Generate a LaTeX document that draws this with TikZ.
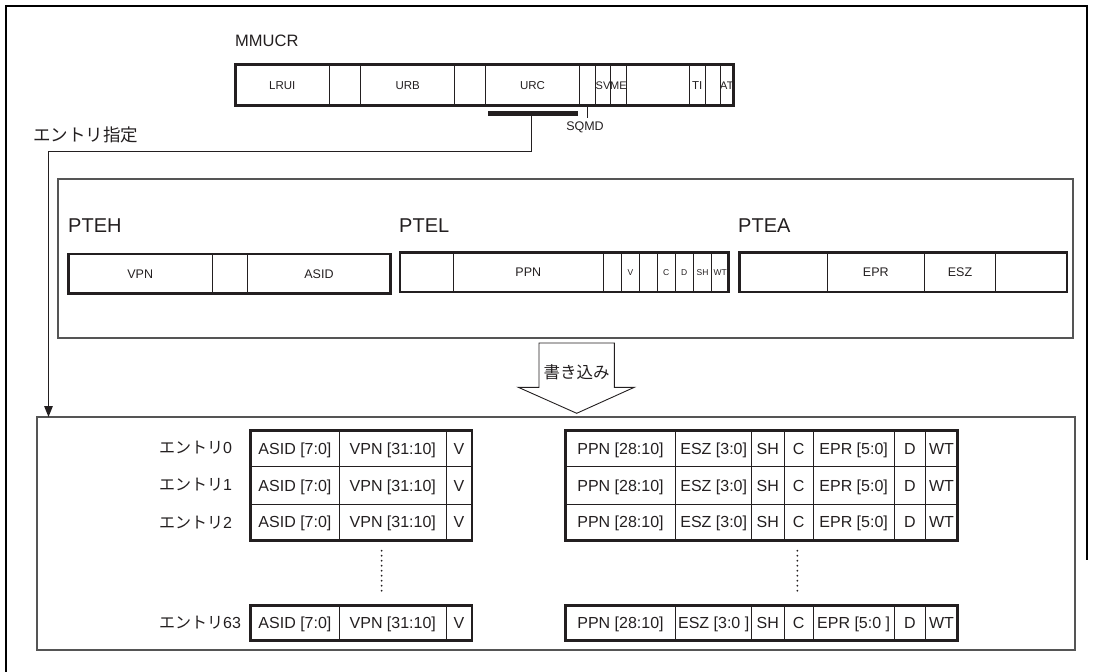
\documentclass[tikz,border=0pt]{standalone}
\usepackage{fontspec}
\setmainfont{Liberation Sans}
\newfontfamily\jp{Noto Sans CJK JP}
\usetikzlibrary{arrows.meta}
\definecolor{ink}{RGB}{35,31,32}
\definecolor{framegray}{RGB}{85,85,85}
\begin{document}
\begin{tikzpicture}[x=1pt,y=-1pt,
  thinl/.style={draw=ink,line width=0.9pt},
  thickl/.style={draw=ink,line width=2.6pt},
  fld/.style={inner sep=0pt,text=ink,font=\fontsize{12.5}{13}\selectfont,text height=9pt,text depth=0pt},
  mfld/.style={inner sep=0pt,text=ink,font=\fontsize{11.5}{12}\selectfont,text height=8.2pt,text depth=0pt},
  smallfld/.style={inner sep=0pt,text=ink,font=\fontsize{8.5}{9}\selectfont,text height=6.1pt,text depth=0pt},
  ent/.style={inner sep=0pt,text=ink,font=\fontsize{16}{17}\selectfont,text height=11.5pt,text depth=0pt},
  regtitle/.style={anchor=base west,inner sep=0pt,text=ink,font=\fontsize{20}{22}\selectfont},
  entlabel/.style={anchor=base west,inner sep=0pt,text=ink,font=\fontsize{16}{17}\selectfont},
  panel/.style={draw=framegray,line width=1.3pt,inner sep=0pt,outer sep=0pt},
  conn/.style={draw=ink,line width=1.3pt},
  dots/.style={draw=ink,line width=2pt,line cap=round,dash pattern=on 0pt off 5pt}
]
\useasboundingbox (0,0) rectangle (1093,672);
% outer frame
\draw[black,line width=2.2pt] (6,672) -- (6,6) -- (1087.3,6) -- (1087.3,560);

% ---------------- MMUCR ----------------
\node[anchor=base west,inner sep=0pt,text=ink,font=\fontsize{16.5}{18}\selectfont] (mmucrt) at (235,46) {MMUCR};
\foreach \a/\b/\t/\n in {235.3/329.3/LRUI/lrui, 329.3/360.7//mA, 360.7/454.7/URB/urb, 454.7/485.7//mB,
  485.7/579.3/URC/urc, 579.3/595.3//sqmdf, 689.3/705/TI/ti, 705/720//mD, 626/689.3//mC}{
  \draw[thinl] (\a,64.3) rectangle (\b,105.7);
  \path (\a,64.3) -- node[mfld] (\n) {\t} (\b,105.7);
}
\foreach \a/\b/\t/\n in {595.3/610.7/SV/sv, 610.7/626/ME/me, 720/733.7/AT/at}{
  \draw[thinl] (\a,64.3) rectangle (\b,105.7);
  \path (\a,64.3) -- node[mfld,font=\fontsize{11}{12}\selectfont] (\n) {\t} (\b,105.7);
}
\draw[thickl] (235.3,64.3) rectangle (733.7,105.7);
\coordinate (sqtick) at (587.3,118);
\draw[thinl] (587.3,106) -- (sqtick);
\node[inner sep=0pt,text=ink,font=\fontsize{12.5}{13}\selectfont] (sqmd) at (585,127) {SQMD};

% bar and "entry select" connector
\node[fill=ink,inner sep=0pt,minimum width=90pt,minimum height=5pt] (urcbar) at (532.7,113.2) {};
\node[anchor=west,inner sep=0pt,text=ink,font=\jp\fontsize{17.5}{19}\selectfont] (shitei) at (33,134.5) {エントリ指定};

% ---------------- PTE panel ----------------
\node[panel,minimum width=1015pt,minimum height=159pt] (ptebox) at (565.5,258.5) {};
\node[regtitle] (pteht) at (68,232) {PTEH};
\node[regtitle] (ptelt) at (399,232) {PTEL};
\node[regtitle] (pteat) at (738,232) {PTEA};

\foreach \a/\b/\t/\n in {68.2/212.3/VPN/hvpn, 212.3/247.7//hE, 247.7/390.2/ASID/hasid}{
  \draw[thinl] (\a,253.8) rectangle (\b,293.6);
  \path (\a,253.8) -- node[fld] (\n) {\t} (\b,293.6);
}
\draw[thickl] (68.2,253.8) rectangle (390.2,293.6);

\foreach \a/\b/\t/\n in {399.8/453.3//lE1, 453.3/603.3/PPN/lppn}{
  \draw[thinl] (\a,252.2) rectangle (\b,291.8);
  \path (\a,252.2) -- node[fld] (\n) {\t} (\b,291.8);
}
\foreach \a/\b/\t/\n in {603.3/621.7//lE2, 621.7/639.3/V/lv, 639.3/657.3//lE3, 657.3/675.3/C/lc,
  675.3/693.3/D/ld, 693.3/711.7/SH/lsh, 711.7/728.6/WT/lwt}{
  \draw[thinl] (\a,252.2) rectangle (\b,291.8);
  \path (\a,252.2) -- node[smallfld] (\n) {\t} (\b,291.8);
}
\draw[thickl] (399.8,252.2) rectangle (728.6,291.8);

\foreach \a/\b/\t/\n in {739.2/827.3//aE1, 827.3/924.3/EPR/aepr, 924.3/995.7/ESZ/aesz, 995.7/1066.8//aE2}{
  \draw[thinl] (\a,252.2) rectangle (\b,291.8);
  \path (\a,252.2) -- node[fld] (\n) {\t} (\b,291.8);
}
\draw[thickl] (739.2,252.2) rectangle (1066.8,291.8);

% ---------------- write arrow ----------------
\draw[ink,line width=0.9pt,fill=white] (539,343) -- (614.3,343) -- (614.3,387.3) -- (634.3,387.3)
  -- (576.7,413.3) -- (518.3,387.3) -- (539,387.3) -- cycle;
\node[inner sep=0pt,text=ink,font=\jp\fontsize{16.5}{18}\selectfont] (kakikomi) at (576.5,372.5) {書き込み};

% ---------------- entries panel ----------------
\node[panel,minimum width=1038pt,minimum height=233pt] (entrybox) at (556,533.5) {};

\coordinate (bend) at (48.5,151.5);
\draw[conn,-{Triangle[length=11pt,width=8.5pt]}] ([xshift=-1pt]urcbar.south) |- (bend) -- (bend |- entrybox.north);

% entry labels
\foreach \yc/\r in {448/0, 485.3/1, 522.7/2, 622.8/63}{
  \node[entlabel] (lab\r) at (159,\yc+5.6) {{\jp エントリ}\r};
}

% left tables
\foreach \ya/\yb/\r in {430.6/466.7/0, 466.7/504/1, 504/540.2/2, 605.3/640.4/63}{
  \foreach \a/\b/\t/\n in {250.6/339.3/ASID [7:0]/asid, 339.3/446.3/VPN [31:10]/vpn, 446.3/471.8/V/v}{
    \draw[thinl] (\a,\ya) rectangle (\b,\yb);
    \path (\a,\ya) -- node[ent] (L\r\n) {\t} (\b,\yb);
  }
}
\draw[thickl] (250.6,430.6) rectangle (471.8,540.2);
\draw[thickl] (250.6,605.3) rectangle (471.8,640.4);

% right tables
\foreach \ya/\yb/\r in {430.6/466.7/0, 466.7/504/1, 504/540.2/2}{
  \foreach \a/\b/\t/\n in {565.3/675.7/PPN [28:10]/ppn, 675.7/751.7/ESZ [3:0]/esz, 751.7/784/SH/sh,
    784/813.3/C/c, 813.3/894/EPR [5:0]/epr, 894/925.7/D/d, 925.7/957.2/WT/wt}{
    \draw[thinl] (\a,\ya) rectangle (\b,\yb);
    \path (\a,\ya) -- node[ent] (R\r\n) {\t} (\b,\yb);
  }
}
\foreach \a/\b/\t/\n in {565.3/675.7/PPN [28:10]/ppn, 675.7/751.7/ESZ [3:0 ]/esz, 751.7/784/SH/sh,
    784/813.3/C/c, 813.3/894/EPR [5:0 ]/epr, 894/925.7/D/d, 925.7/957.2/WT/wt}{
  \draw[thinl] (\a,605.3) rectangle (\b,640.4);
  \path (\a,605.3) -- node[ent] (R63\n) {\t} (\b,640.4);
}
\draw[thickl] (565.3,430.6) rectangle (957.2,540.2);
\draw[thickl] (565.3,605.3) rectangle (957.2,640.4);

% dotted continuation lines
\draw[dots] (381.7,550.7) -- (381.7,590.7);
\draw[dots] (797.3,550.7) -- (797.3,590.7);
\end{tikzpicture}
\end{document}
